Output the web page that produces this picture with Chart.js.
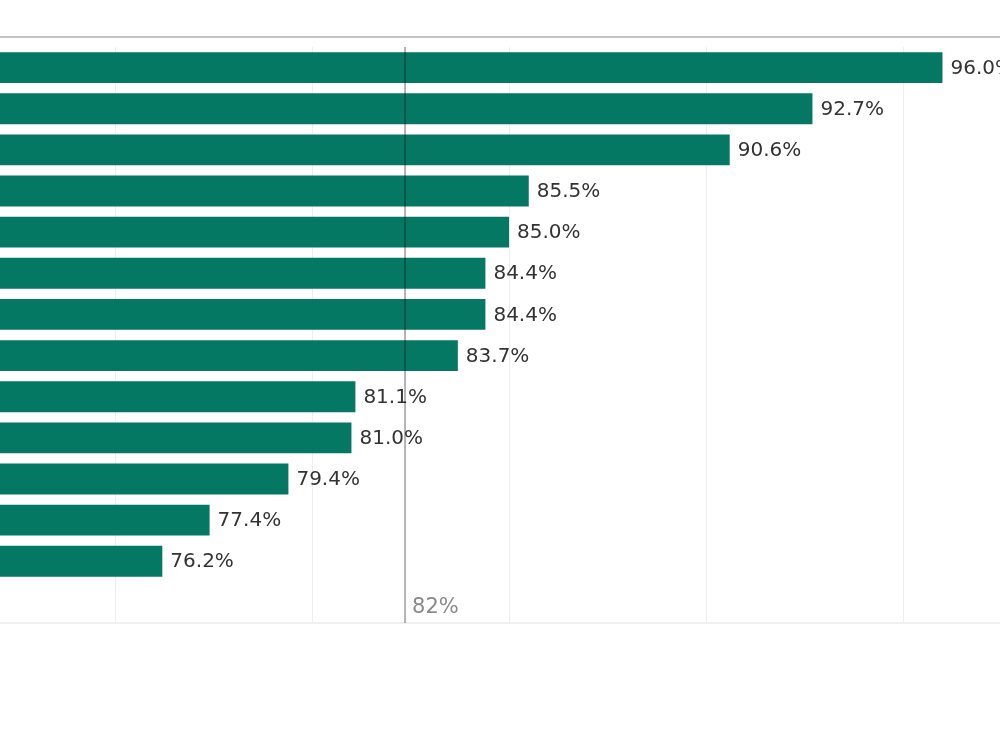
<!DOCTYPE html>
<html lang="en">
<head>
    <meta charset="UTF-8">
    <title>Share by category</title>
    <script src="https://cdn.jsdelivr.net/npm/chart.js"></script>
    <style>
        body {
            margin: 0;
            background-color: #ffffff;
        }
        #wrap {
            position: relative;
            width: 1000px;
            height: 750px;
        }
    </style>
</head>
<body>
    <div id="wrap">
        <canvas id="grafico"></canvas>
    </div>

    <script>
        // categories are cut off in the reference, so only placeholders here
        const categories = ['A', 'B', 'C', 'D', 'E', 'F', 'G', 'H', 'I', 'J', 'K', 'L', 'M', ''];
        const values = [96.0, 92.7, 90.6, 85.5, 85.0, 84.4, 84.4, 83.7, 81.1, 81.0, 79.4, 77.4, 76.2, null];
        const average = 82.36;
        const averageLabel = '82%';
        const gridTicks = [75, 80, 85, 90, 95];

        // labels at the end of each bar
        const barLabels = {
            id: 'barLabels',
            afterDatasetsDraw(chart) {
                const c = chart.ctx;
                const meta = chart.getDatasetMeta(0);
                c.save();
                c.font = '20px "DejaVu Sans"';
                c.fillStyle = '#333333';
                c.textBaseline = 'middle';
                meta.data.forEach((bar, i) => {
                    if (values[i] == null) return;
                    c.fillText(values[i].toFixed(1) + '%', bar.x + 8, bar.y + 1);
                });
                c.restore();
            }
        };

        // average reference line + top rule
        const refLine = {
            id: 'refLine',
            afterDatasetsDraw(chart) {
                const c = chart.ctx;
                const area = chart.chartArea;
                const x = chart.scales.x.getPixelForValue(average);
                c.save();
                c.strokeStyle = 'rgba(0,0,0,0.3)';
                c.lineWidth = 2;
                c.beginPath();
                c.moveTo(x, area.top);
                c.lineTo(x, area.bottom);
                c.stroke();
                c.font = '21px "DejaVu Sans"';
                c.fillStyle = '#8a8a8a';
                c.textBaseline = 'alphabetic';
                c.fillText(averageLabel, x + 7, area.bottom - 10);

                c.strokeStyle = '#c4c4c4';
                c.beginPath();
                c.moveTo(0, area.top - 10);
                c.lineTo(chart.width, area.top - 10);
                c.stroke();
                c.restore();
            }
        };

        const ctx = document.getElementById('grafico').getContext('2d');
        new Chart(ctx, {
            type: 'bar',
            data: {
                labels: categories,
                datasets: [{
                    data: values,
                    backgroundColor: '#057863',
                    barPercentage: 0.75,
                    categoryPercentage: 1
                }]
            },
            options: {
                indexAxis: 'y',
                responsive: true,
                maintainAspectRatio: false,
                animation: false,
                layout: {
                    padding: { top: 47, bottom: 127, left: 0, right: 0 }
                },
                plugins: {
                    legend: { display: false },
                    tooltip: { enabled: false }
                },
                scales: {
                    x: {
                        min: 72.08,
                        max: 97.46,
                        afterBuildTicks(scale) {
                            scale.ticks = gridTicks.map(v => ({ value: v }));
                        },
                        ticks: { display: false },
                        grid: { color: '#eeeeee', drawTicks: false },
                        border: { display: true, color: '#f0f0f0', width: 2 }
                    },
                    y: {
                        display: false
                    }
                }
            },
            plugins: [barLabels, refLine]
        });
    </script>
</body>
</html>
